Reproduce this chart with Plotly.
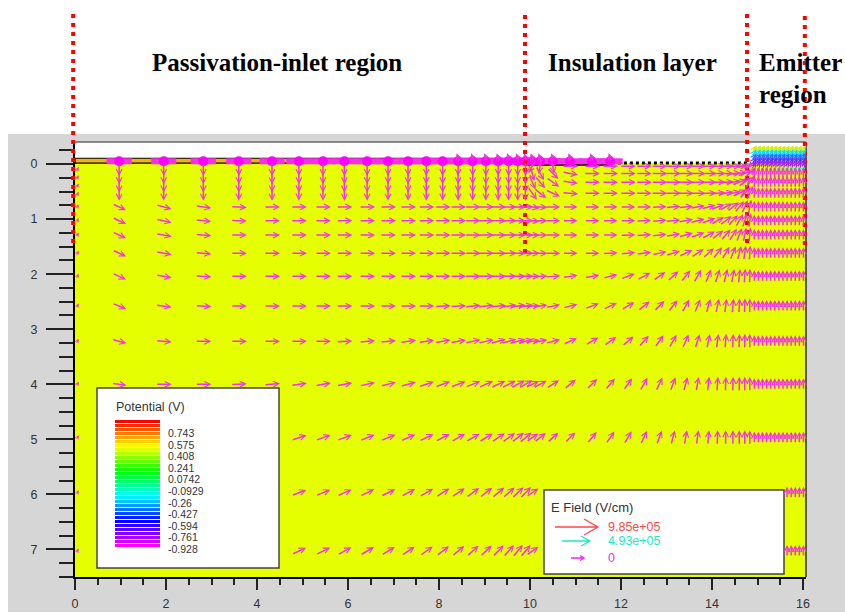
import math
import colorsys
import plotly.graph_objects as go

# ---------------- data ----------------
X_RANGE = [0.0, 16.066]
Y_RANGE = [7.50, -0.40]

COLS_PASS = [0.97, 1.95, 2.82, 3.60, 4.33, 4.92, 5.45, 5.92, 6.42, 6.88,
             7.32, 7.72, 8.08, 8.42, 8.74, 9.03, 9.30, 9.53, 9.73, 9.90]
COLS_INS = [10.05, 10.22, 10.50, 10.88, 11.36, 11.76, 12.15, 12.50, 12.84, 13.14,
            13.42, 13.68, 13.92, 14.12, 14.30, 14.46, 14.60, 14.72, 14.83]
COLS_EMI = [14.93, 15.02, 15.11, 15.20, 15.29, 15.38, 15.47, 15.56, 15.65,
            15.74, 15.83, 15.92, 16.01]

ROWS_STACK = [0.10, 0.25, 0.40, 0.55]
ROWS_TOP = [0.04, 0.17, 0.33, 0.53]
ROWS_BULK = [0.78, 1.03, 1.29, 1.62, 2.04, 2.58, 3.22, 4.00, 4.97, 5.97, 7.03]

# field angle (deg, up positive) in passivation region, one list per bulk row
ANG_PASS = [
    [-25, -15, -8, -3, 0, 0, 0, 0, 0, 0, 0, 0, 0, 0, 0, 0, 0, 0, 0, 0],
    [-25, -12, -6, -2, 0, 0, 0, 0, 0, 0, 0, 0, 0, 0, 0, 0, 0, 0, 0, 0],
    [-25, -10, -5, 0, 0, 0, 0, 0, 0, 0, 0, 0, 0, 0, 0, 0, 0, 0, 0, 0],
    [-25, -10, -5, 0, 0, 0, 0, 0, 0, 0, 0, 0, 0, 0, 0, 0, 0, 0, 0, 0],
    [-25, -10, -4, 0, 0, 0, 0, 0, 0, 0, 0, 0, 0, 0, 0, 0, 0, 0, 0, 0],
    [-22, -8, -3, 0, 0, 0, 0, 0, 0, 0, 0, 0, 3, 3, 5, 5, 5, 8, 8, 8],
    [-15, -5, 0, 0, 0, 0, 0, 3, 5, 5, 8, 8, 10, 10, 12, 12, 15, 15, 15, 15],
    [-8, 0, 0, 3, 5, 8, 10, 10, 12, 14, 16, 18, 20, 20, 22, 24, 25, 26, 28, 30],
    [0, 5, 8, 10, 15, 18, 20, 20, 22, 22, 24, 25, 28, 30, 30, 32, 34, 36, 38, 40],
    [5, 10, 12, 15, 18, 20, 22, 24, 25, 26, 28, 30, 32, 34, 36, 38, 40, 42, 44, 45],
    [8, 12, 15, 18, 22, 25, 26, 28, 30, 32, 34, 36, 38, 40, 42, 44, 46, 48, 50, 50],
]
# field angle in insulation region, top rows then bulk rows
ANG_INS_TOP = [
    [-120, -100, -80, 0, 0, 0, 0, 0, 0, 0, 0, 0, 0, 0, 0, 0, 5, 10, 20],
    [-75, -60, -45, -10, 0, 0, 0, 0, 0, 0, 0, 0, 0, 0, 0, 5, 10, 20, 40],
    [-65, -50, -35, -8, 0, 0, 0, 0, 0, 0, 0, 0, 0, 2, 5, 10, 20, 35, 55],
    [-55, -40, -25, -5, 0, 0, 0, 0, 0, 0, 0, 0, 2, 5, 10, 15, 25, 45, 65],
]
ANG_INS = [
    [-10, -3, 0, 0, 0, 0, 0, 0, 2, 4, 6, 10, 14, 20, 28, 38, 50, 65, 78],
    [-3, 0, 0, 0, 0, 0, 0, 2, 4, 6, 10, 14, 20, 28, 38, 48, 60, 72, 82],
    [0, 0, 0, 0, 0, 0, 2, 4, 6, 10, 15, 20, 28, 38, 48, 58, 68, 78, 84],
    [0, 0, 0, 0, 0, 3, 5, 8, 12, 18, 25, 32, 42, 52, 60, 68, 75, 82, 86],
    [0, 3, 5, 8, 10, 15, 20, 28, 35, 42, 50, 60, 68, 72, 76, 80, 83, 86, 88],
    [5, 8, 10, 15, 20, 25, 30, 38, 45, 52, 60, 68, 74, 78, 82, 85, 87, 88, 89],
    [10, 12, 15, 25, 30, 35, 40, 48, 55, 60, 66, 72, 78, 82, 85, 87, 88, 89, 90],
    [25, 28, 32, 40, 45, 50, 55, 60, 65, 70, 75, 80, 84, 86, 88, 89, 90, 90, 90],
    [35, 38, 42, 45, 50, 55, 60, 65, 70, 75, 80, 82, 85, 88, 90, 90, 90, 90, 90],
    [35, 38, 42, 45, 50, 55, 60, 65, 70, 75, 80, 82, 85, 88, 90, 90, 90, 90, 90],
    [35, 38, 42, 45, 50, 55, 60, 65, 70, 75, 80, 82, 85, 88, 90, 90, 90, 90, 90],
]
# emitter surface layer: rows and colours of the strong-field arrows
EMI_TOP_ROWS = [-0.27, -0.20, -0.13, -0.06, 0.00]
EMI_TOP_COLORS = ["#d4ec00", "#00e0f0", "#2a70ff", "#5a30ff", "#a020f0"]
EMI_DOT_ROW = 0.09

POT_LABELS = ["0.743", "0.575", "0.408", "0.241", "0.0742", "-0.0929",
              "-0.26", "-0.427", "-0.594", "-0.761", "-0.928"]
EF_LABELS = ["9.85e+05", "4.93e+05", "0"]
EF_COLORS = ["#ff4848", "#1de8c8", "#ff22ff"]

REGION_X = [-0.04, 9.89, 14.77, 16.04]
REGION_NAMES = ["Passivation-inlet region", "Insulation layer", "Emitter", "region"]

MAG = "#f530ea"

# ---------------- layout helpers (pixel -> paper) ----------------
L, T, W, H = 75, 142, 731, 435


def pxp(px):
    return (px - L) / W


def pyp(py):
    return (T + H - py) / H


def dxp(x):
    return (x - X_RANGE[0]) / (X_RANGE[1] - X_RANGE[0])


annotations = []
shapes = []


def in_legend(x, y):
    if 0.3 <= x <= 4.75 and y >= 4.3:
        return True
    if 10.2 <= x <= 15.62 and y >= 5.9:
        return True
    return False


def arrow(x, y, ang, length, color=MAG, width=1.5, size=0.75):
    if in_legend(x, y):
        return
    th = math.radians(ang)
    dx = length * math.cos(th)
    dy = length * math.sin(th)
    annotations.append(dict(
        x=x, y=y, xref="x", yref="y", ax=-dx, ay=dy,
        axref="pixel", ayref="pixel", text="", showarrow=True,
        arrowhead=5, arrowsize=size, arrowwidth=width, arrowcolor=color,
        xshift=dx / 2, yshift=dy / 2, standoff=0, startstandoff=0))


# passivation: downward stacks near surface, then bulk rows
for x in COLS_PASS:
    for y in ROWS_STACK:
        arrow(x, y, -90, 13)
for r, y in enumerate(ROWS_BULK):
    for c, x in enumerate(COLS_PASS):
        arrow(x, y, ANG_PASS[r][c], 16 if c > 0 else 15)

# insulation
for r, y in enumerate(ROWS_TOP):
    for c, x in enumerate(COLS_INS):
        arrow(x, y, ANG_INS_TOP[r][c], 16)
for r, y in enumerate(ROWS_BULK):
    for c, x in enumerate(COLS_INS):
        arrow(x, y, ANG_INS[r][c], 15)

# emitter
for y in ROWS_TOP[1:] + ROWS_BULK:
    for x in COLS_EMI:
        arrow(x, y, 90, 12)
for y, col in zip(EMI_TOP_ROWS, EMI_TOP_COLORS):
    for x in COLS_EMI:
        arrow(x, y, 55, 9, color=col, width=1.6, size=0.7)

# upward arrows emerging from surface near insulation edge
for x in COLS_PASS[13:] + COLS_INS[:6]:
    arrow(x, -0.12, 110, 9)

# left boundary small arrows
for y in ROWS_STACK + ROWS_BULK:
    arrow(0.05, y, 60, 6, width=1.2, size=0.55)

# ---------------- traces (surface blobs) ----------------
blob_x = COLS_PASS + COLS_INS[:6]
fig = go.Figure()
fig.add_trace(go.Scatter(
    x=blob_x, y=[-0.05] * len(blob_x), mode="markers", hoverinfo="skip",
    marker=dict(symbol="line-ew", size=18, color=MAG,
                line=dict(color=MAG, width=6)), showlegend=False))
fig.add_trace(go.Scatter(
    x=blob_x, y=[-0.05] * len(blob_x), mode="markers", hoverinfo="skip",
    marker=dict(symbol="circle", size=10, color="#ff00ff"), showlegend=False))
fig.add_trace(go.Scatter(
    x=COLS_EMI, y=[EMI_DOT_ROW] * len(COLS_EMI), mode="markers", hoverinfo="skip",
    marker=dict(symbol="circle", size=3, color="#22d8a0"), showlegend=False))

# ---------------- shapes ----------------
shapes.append(dict(type="rect", xref="paper", yref="paper", layer="below",
                   x0=pxp(8), x1=pxp(845), y0=pyp(612), y1=pyp(134),
                   fillcolor="#d6d6d6", line=dict(width=0)))
shapes.append(dict(type="rect", xref="x", yref="y", layer="below",
                   x0=X_RANGE[0], x1=X_RANGE[1], y0=Y_RANGE[1], y1=Y_RANGE[0],
                   fillcolor="white", line=dict(width=0)))
shapes.append(dict(type="rect", xref="x", yref="y", layer="below",
                   x0=X_RANGE[0], x1=X_RANGE[1], y0=-0.015, y1=Y_RANGE[0],
                   fillcolor="#e5ff00", line=dict(width=0)))
shapes.append(dict(type="rect", xref="x", yref="y", layer="below",
                   x0=0, x1=9.95, y0=-0.105, y1=-0.015,
                   fillcolor="#f0b400", line=dict(color="black", width=1.2)))
shapes.append(dict(type="rect", xref="x", yref="y", layer="below",
                   x0=9.95, x1=11.8, y0=-0.07, y1=0.03,
                   fillcolor="black", line=dict(width=0)))
shapes.append(dict(type="line", xref="x", yref="y", layer="below",
                   x0=11.8, x1=14.85, y0=-0.02, y1=-0.02,
                   line=dict(color="black", width=3, dash="dot")))
shapes.append(dict(type="line", xref="paper", yref="paper", x0=0, x1=1, y0=1, y1=1,
                   line=dict(color="#666", width=1.5)))
shapes.append(dict(type="line", xref="paper", yref="paper", x0=1, x1=1, y0=0, y1=1,
                   line=dict(color="#555", width=2)))

for xv, pybot in zip(REGION_X, [243, 253, 243, 245]):
    shapes.append(dict(type="line", xref="paper", yref="paper",
                       x0=dxp(xv), x1=dxp(xv), y0=pyp(pybot), y1=pyp(12),
                       line=dict(color="#ff0000", width=4, dash="4px,5px")))

# Potential legend box
shapes.append(dict(type="rect", xref="paper", yref="paper",
                   x0=pxp(97), x1=pxp(279), y0=pyp(568), y1=pyp(388),
                   fillcolor="white", line=dict(color="#444", width=1.5)))
NSTRIPE = 32
for i in range(NSTRIPE):
    h = (300.0 / 360.0) * i / (NSTRIPE - 1)
    r, g, b = colorsys.hsv_to_rgb(h, 1, 1)
    top = 420 + i * 4
    shapes.append(dict(type="rect", xref="paper", yref="paper",
                       x0=pxp(115), x1=pxp(160), y0=pyp(top + 3), y1=pyp(top),
                       fillcolor="rgb(%d,%d,%d)" % (r * 255, g * 255, b * 255),
                       line=dict(width=0)))
annotations.append(dict(x=pxp(114), y=pyp(407), xref="paper", yref="paper",
                        text="Potential (V)", showarrow=False, xanchor="left",
                        yanchor="middle", font=dict(family="Liberation Sans", size=12.5, color="#333")))
for i, lab in enumerate(POT_LABELS):
    annotations.append(dict(x=pxp(167), y=pyp(433 + i * 11.6), xref="paper", yref="paper",
                            text=lab, showarrow=False, xanchor="left", yanchor="middle",
                            borderpad=0,
                            font=dict(family="Liberation Sans", size=10.5, color="#333")))

# E field legend box
shapes.append(dict(type="rect", xref="paper", yref="paper",
                   x0=pxp(544), x1=pxp(784), y0=pyp(574), y1=pyp(490),
                   fillcolor="white", line=dict(color="#444", width=1.5)))
annotations.append(dict(x=pxp(549), y=pyp(507), xref="paper", yref="paper",
                        text="E Field (V/cm)", showarrow=False, xanchor="left",
                        yanchor="middle", font=dict(family="Liberation Sans", size=13, color="#333")))
EF_GEOM = [(555, 598, 527, 14, 8), (562, 590, 541, 9, 5), (571, 584, 558, 4, 2.5)]
for (xa, xb, yy, hl, hw), col, lab in zip(EF_GEOM, EF_COLORS, EF_LABELS):
    path = "M %f %f L %f %f M %f %f L %f %f L %f %f" % (
        pxp(xa), pyp(yy), pxp(xb), pyp(yy),
        pxp(xb - hl), pyp(yy - hw), pxp(xb), pyp(yy), pxp(xb - hl), pyp(yy + hw))
    shapes.append(dict(type="path", xref="paper", yref="paper", path=path,
                       line=dict(color=col, width=1.3)))
    annotations.append(dict(x=pxp(607), y=pyp(yy), xref="paper", yref="paper",
                            text=lab, showarrow=False, xanchor="left", yanchor="middle",
                            borderpad=0,
                            font=dict(family="Liberation Sans", size=12.5, color=col)))

# region titles
TFONT = dict(family="Liberation Serif", size=25, color="black")
annotations.append(dict(x=pxp(277), y=pyp(63), xref="paper", yref="paper",
                        text="<b>%s</b>" % REGION_NAMES[0], showarrow=False,
                        xanchor="center", yanchor="middle", font=TFONT))
annotations.append(dict(x=pxp(632), y=pyp(63), xref="paper", yref="paper",
                        text="<b>%s</b>" % REGION_NAMES[1], showarrow=False,
                        xanchor="center", yanchor="middle", font=TFONT))
annotations.append(dict(x=pxp(757), y=pyp(63), xref="paper", yref="paper",
                        text="<b>%s</b>" % REGION_NAMES[2], showarrow=False,
                        xanchor="left", yanchor="middle", font=TFONT))
annotations.append(dict(x=pxp(757), y=pyp(95), xref="paper", yref="paper",
                        text="<b>%s</b>" % REGION_NAMES[3], showarrow=False,
                        xanchor="left", yanchor="middle", font=TFONT))

TICKFONT = dict(family="Liberation Sans", size=12.5, color="#333")
fig.update_layout(
    width=845, height=615,
    margin=dict(l=L, r=845 - L - W, t=T, b=615 - T - H, pad=0, autoexpand=False),
    paper_bgcolor="white", plot_bgcolor="white",
    showlegend=False,
    xaxis=dict(range=X_RANGE, tick0=0, dtick=2, ticks="outside", ticklen=11,
               tickwidth=2, tickcolor="#222", showgrid=False, zeroline=False,
               showline=True, linecolor="black", linewidth=2, tickfont=TICKFONT,
               ticklabelstandoff=3, automargin=False,
               minor=dict(dtick=0.5, ticks="outside", ticklen=6, tickwidth=1.5,
                          tickcolor="#222", showgrid=False)),
    yaxis=dict(range=Y_RANGE, tick0=0, dtick=1, ticks="outside", ticklen=27,
               tickwidth=2, tickcolor="#222", showgrid=False, zeroline=False,
               showline=True, linecolor="black", linewidth=2, tickfont=TICKFONT,
               ticklabelstandoff=6, automargin=False,
               minor=dict(dtick=0.25, ticks="outside", ticklen=14, tickwidth=1.5,
                          tickcolor="#222", showgrid=False)),
    shapes=shapes,
    annotations=annotations,
)

fig.write_html("out.html")
